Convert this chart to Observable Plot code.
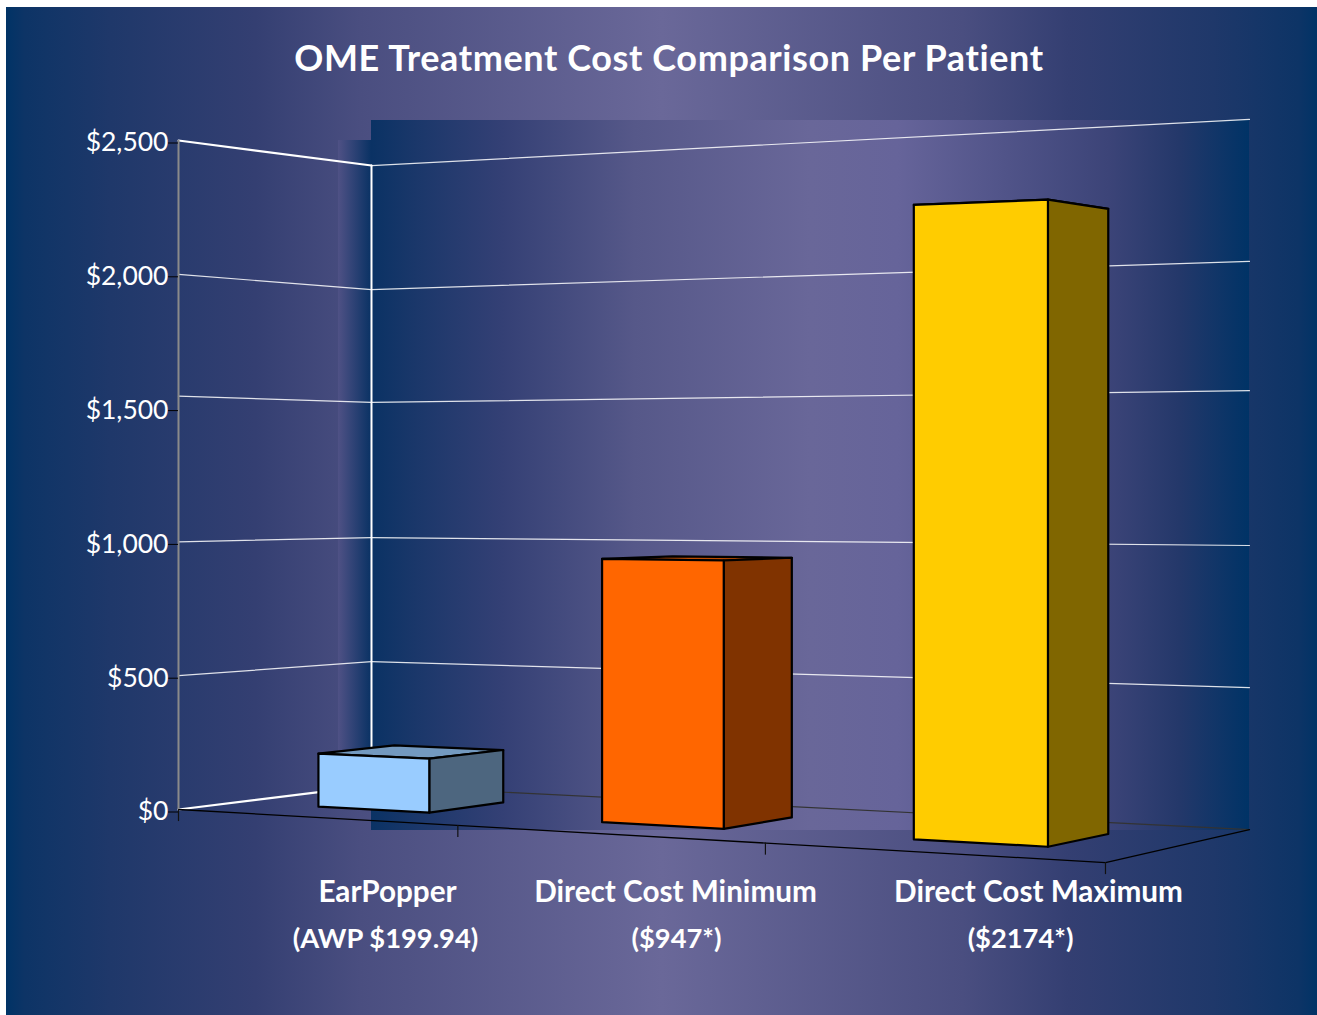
<!DOCTYPE html>
<html>
<head>
<meta charset="utf-8">
<script src="https://cdn.jsdelivr.net/npm/d3@7"></script>
<script src="https://cdn.jsdelivr.net/npm/@observablehq/plot@0.6"></script>
<style>
  html, body { margin: 0; padding: 0; background: #fff; }
  #page { position: relative; width: 1317px; height: 1015px; overflow: hidden; }
  #panel { position: absolute; left: 6px; top: 7px; right: 0; bottom: 0;
    background: linear-gradient(90deg, #003366 0%, #0d3466 1.4%, #1f386a 8%, #343f72 19%, #4a4e80 27%, #6a6899 50%, #4a4e80 73%, #343f72 81%, #1f386a 92%, #0d3466 98.6%, #003366 100%); }
  #title { position: absolute; left: 0; width: 1338px; top: 35px; margin: 0; text-align: center;
    font: 700 36px/44px Lato, sans-serif; letter-spacing: 0.6px; font-variant-ligatures: none; color: #fff; }
  #chart { position: absolute; left: 0; top: 0; }
</style>
</head>
<body>
<div id="page">
  <div id="panel"></div>
  <h1 id="title">OME Treatment Cost Comparison Per Patient</h1>
  <div id="chart"></div>
</div>
<script>
// ---------- data ----------
const categories = ["EarPopper", "Direct Cost Minimum", "Direct Cost Maximum"];
const subLabels = ["(AWP $199.94)", "($947*)", "($2174*)"];
const costs = [199.94, 947, 2174];
const tickValues = [0, 500, 1000, 1500, 2000, 2500];
// the 1,500 gridline sits visibly above its tick in the picture
const gridLevels = [500, 1000, 1545, 2000, 2500];

// ---------- styles / layout ----------
const faceColors = [
  {front: "#99ccff", side: "#4d667f", top: "#7399bf"},
  {front: "#ff6600", side: "#803300", top: "#bf4c00"},
  {front: "#ffcc00", side: "#806600", top: "#bf9900"}
];
const labelCenters = [387, 675, 1038];
const subLabelCenters = [385, 676, 1020];
const W = 1317, H = 1015, M = {left: 178, right: 212, top: 140, bottom: 206};
const plotW = W - M.left - M.right, plotH = H - M.top - M.bottom;
const font = "Lato, sans-serif";

// pixel position <-> scale domain
const toX = (px) => (px - M.left) / plotW * 3;
const toY = (py) => (H - M.bottom - py) / plotH * 2500;

// Two-point perspective box: u along categories, d into depth, v the cost.
const g = -0.1627, h = 0.0825;
function project(u, v, d) {
  const w = 1 + g * u + h * d;
  const px = (747.2 * u + 223.6 * d + 178) / w;
  const y0 = (-87.2 * u + 40.8 * d + 809) / w;
  const span = 1 / (0.001495 - 0.000205 * u + 0.000118 * d);
  return {x: toX(px), y: toY(y0 - v / 2500 * span)};
}
const slotU = (t) => t + 0.03 * t * (1 - t);

const line = (pts, o) => Plot.line(pts, {x: "x", y: "y", curve: "linear", ...o});

// bars
const dFront = 0.29, dBack = 0.69;
const barMarks = costs.flatMap((c, i) => {
  const m = slotU((i + 0.5) / 3) + 0.001, half = 0.069 - 0.004 * m;
  const u0 = m - half, u1 = m + half;
  const quad = (a, b, e, f) => [a, b, e, f, a];
  const p = (u, v, d) => project(u, v, d);
  const style = {stroke: "#000", strokeWidth: 2.2, strokeLinejoin: "round"};
  return [
    line(quad(p(u0, c, dFront), p(u1, c, dFront), p(u1, c, dBack), p(u0, c, dBack)), {...style, fill: faceColors[i].top}),
    line(quad(p(u1, 0, dFront), p(u1, c, dFront), p(u1, c, dBack), p(u1, 0, dBack)), {...style, fill: faceColors[i].side}),
    line(quad(p(u0, 0, dFront), p(u0, c, dFront), p(u1, c, dFront), p(u1, 0, dFront)), {...style, fill: faceColors[i].front})
  ];
});

// walls
const BL = (v) => project(0, v, 1), BR = (v) => project(1, v, 1), FL = (v) => project(0, v, 0);
const gridMarks = gridLevels.flatMap((v) => [
  line([FL(v), BL(v)], {stroke: "#fff", strokeWidth: v === 2500 ? 2 : 1.2, strokeOpacity: v === 2500 ? 1 : 0.85}),
  line([BL(v), BR(v)], {stroke: "#fff", strokeWidth: 1.2, strokeOpacity: 0.85})
]);

const defs = () => {
  const s = d3.create("svg:defs");
  const grad = (id, stops) => {
    const lg = s.append("linearGradient").attr("id", id);
    stops.forEach(([o, c]) => lg.append("stop").attr("offset", o).attr("stop-color", c));
  };
  grad("wall", [[0, "#0a3264"], [0.05, "#1a376a"], [0.15, "#344075"], [0.3, "#565889"], [0.5, "#696799"], [0.6, "#66649a"], [0.84, "#3c4478"], [0.92, "#24386a"], [1, "#003366"]]);
  grad("band", [[0, "#4f5185"], [1, "#0a3264"]]);
  return s.node();
};

const plot = Plot.plot({
  width: W, height: H,
  marginLeft: M.left, marginRight: M.right, marginTop: M.top, marginBottom: M.bottom,
  style: {background: "transparent", fontFamily: font, overflow: "visible"},
  x: {domain: [0, 3], axis: null},
  y: {domain: [0, 2500]},
  marks: [
    defs,
    // back wall and side-wall shade
    Plot.rect([0], {x1: toX(371), x2: toX(1249), y1: toY(120), y2: toY(830), fill: "url(#wall)"}),
    Plot.rect([0], {x1: toX(338), x2: toX(371), y1: toY(140), y2: toY(790), fill: "url(#band)"}),
    ...gridMarks,
    // left wall base and corner
    line([BL(0), BL(2500)], {stroke: "#fff", strokeWidth: 2}),
    line([FL(0), BL(0)], {stroke: "#fff", strokeWidth: 2.2}),
    line([BL(0), BR(0)], {stroke: "#333", strokeWidth: 1.2}),
    // floor front edges
    line([FL(0), project(1, 0, 0), BR(0)], {stroke: "#000", strokeWidth: 1.3}),
    Plot.ruleX([0], {y1: 0, y2: 2500, stroke: "#8a8a8a", strokeWidth: 2}),
    // category ticks
    ...[0, 1, 2, 3].map((i) => {
      const p = project(slotU(i / 3), 0, 0);
      return Plot.ruleX([p.x], {y1: p.y, y2: p.y - 45, stroke: "#111", strokeWidth: 1.2});
    }),
    Plot.axisY({
      ticks: tickValues, tickSize: 10, tickPadding: 0, stroke: "#000",
      fill: "#fff", fontSize: 26.5, tickFormat: (d) => "$" + d3.format(",")(d), label: null, dy: 2.5
    }),
    ...barMarks,
    Plot.text(categories, {
      x: (d, i) => toX(labelCenters[i]), y: toY(892), text: (d) => d,
      fill: "#fff", fontSize: 29.7, fontWeight: 700, fontFamily: font, textAnchor: "middle"
    }),
    Plot.text(subLabels, {
      x: (d, i) => toX(subLabelCenters[i]), y: toY(939), text: (d) => d,
      fill: "#fff", fontSize: 27.3, fontWeight: 700, fontFamily: font, textAnchor: "middle"
    })
  ]
});
document.getElementById("chart").appendChild(plot);
</script>
</body>
</html>
